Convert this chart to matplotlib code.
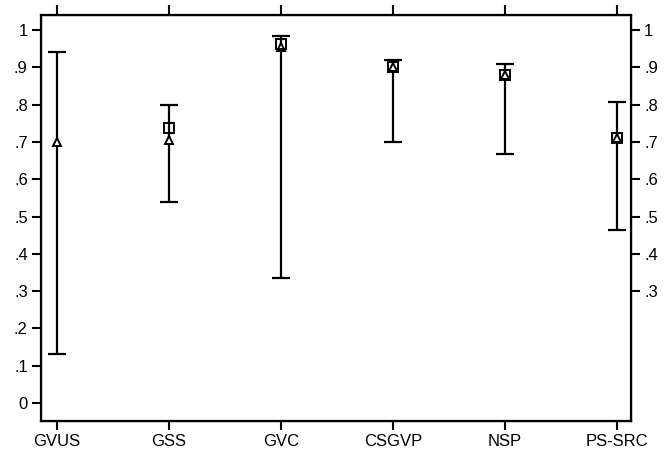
import matplotlib
matplotlib.use("Agg")
import matplotlib.pyplot as plt
import numpy as np

categories = ["GVUS", "GSS", "GVC", "CSGVP", "NSP", "PS-SRC"]
lower = [0.132, 0.540, 0.335, 0.700, 0.668, 0.464]
upper = [0.941, 0.800, 0.984, 0.920, 0.909, 0.806]
triangle_vals = [0.700, 0.705, 0.955, 0.900, 0.880, 0.710]
square_vals = [np.nan, 0.738, 0.962, 0.900, 0.880, 0.710]
left_ticks = [0, 0.1, 0.2, 0.3, 0.4, 0.5, 0.6, 0.7, 0.8, 0.9, 1.0]
right_ticks = [0.3, 0.4, 0.5, 0.6, 0.7, 0.8, 0.9, 1.0]

def fmt(v):
    s = f"{v:.1f}".rstrip("0").rstrip(".")
    if s.startswith("0."):
        s = s[1:]
    return s

plt.rcParams["font.family"] = ["Liberation Sans", "DejaVu Sans"]
fig = plt.figure(figsize=(6.7, 4.55), dpi=100)
ax = fig.add_axes([41/670, 1-421/455, (631-41)/670, (421-15)/455])

x = np.arange(len(categories))
lo = np.array(lower)
hi = np.array(upper)
mid = (lo + hi) / 2
ax.errorbar(x, mid, yerr=[mid - lo, hi - mid], fmt="none", ecolor="black",
            elinewidth=1.6, capsize=6.5, capthick=1.6, zorder=2)
ax.plot(x, triangle_vals, linestyle="none", marker="^", markersize=5.5,
        markerfacecolor="white", markeredgecolor="black", markeredgewidth=1.4, zorder=3)
ax.plot(x, square_vals, linestyle="none", marker="s", markersize=6.5,
        markerfacecolor="none", markeredgecolor="black", markeredgewidth=1.4, zorder=4)

ax.set_xlim(-0.143, 5.125)
ax.set_ylim(-0.048, 1.040)
ax.set_xticks(x)
ax.set_xticklabels(categories, fontsize=12)
ax.set_yticks(left_ticks)
ax.set_yticklabels([fmt(v) for v in left_ticks], fontsize=12)
for s in ax.spines.values():
    s.set_linewidth(1.6)
ax.tick_params(direction="out", length=6.5, width=1.5, pad=3)

ax2 = ax.twinx()
ax2.set_ylim(ax.get_ylim())
ax2.set_yticks(right_ticks)
ax2.set_yticklabels([fmt(v) for v in right_ticks], fontsize=12)
ax2.tick_params(direction="out", length=6.5, width=1.5, pad=3)

ax3 = ax.twiny()
ax3.set_xlim(ax.get_xlim())
ax3.set_xticks(x)
ax3.set_xticklabels([])
ax3.tick_params(direction="out", length=7, width=1.5)

fig.savefig("out.png", dpi=100)
